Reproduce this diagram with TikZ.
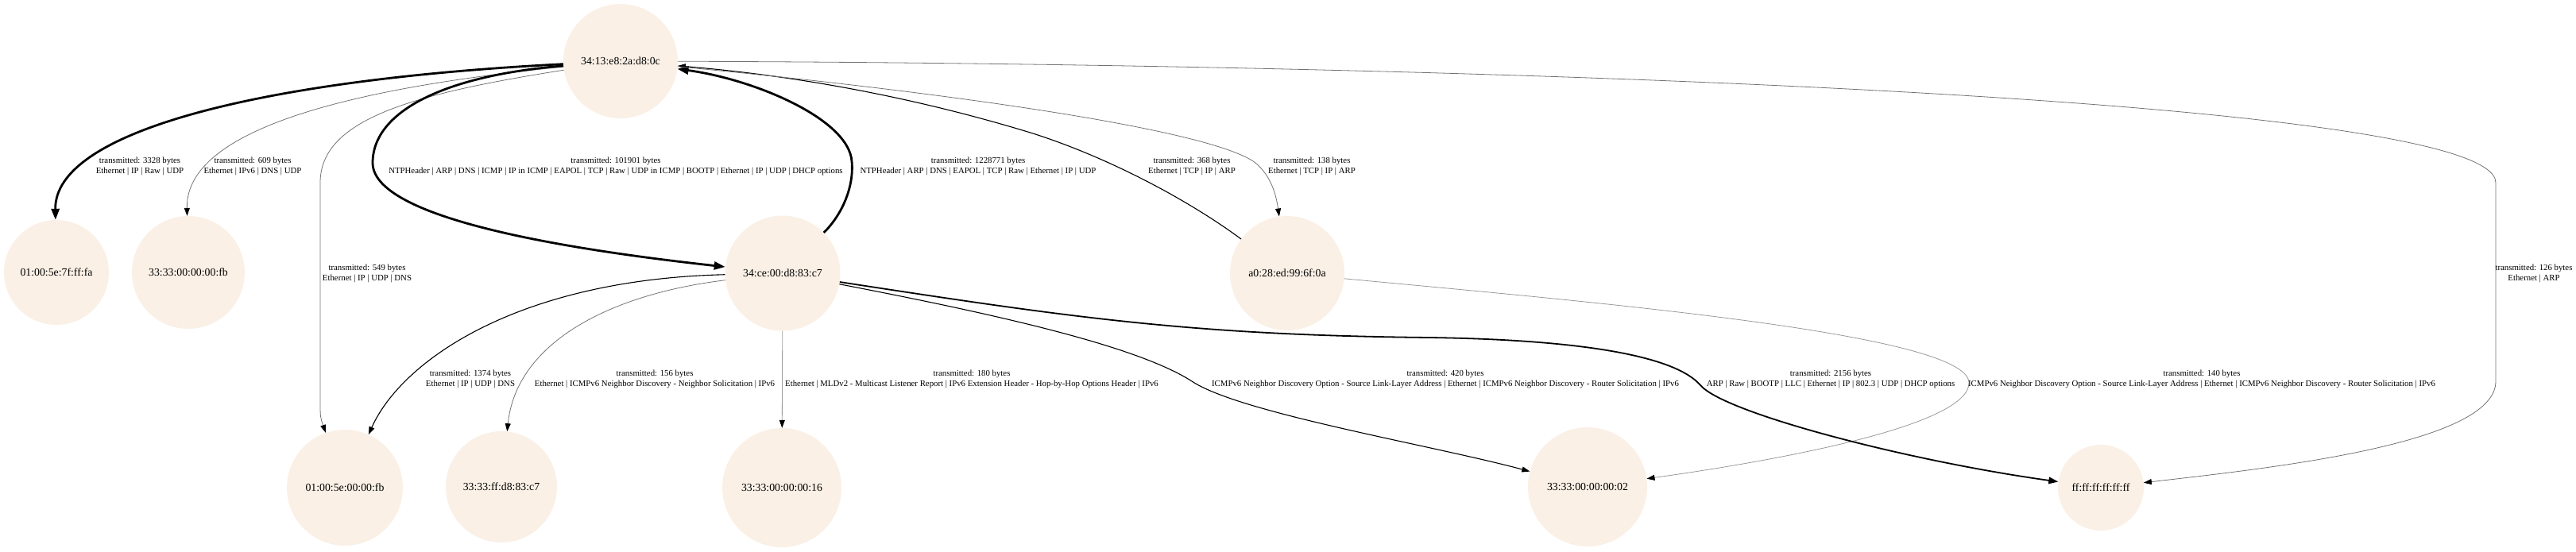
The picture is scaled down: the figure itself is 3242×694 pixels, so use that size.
\documentclass[tikz,border=0pt]{standalone}
\usepackage{fontspec}
\setmainfont{Liberation Serif}
\usetikzlibrary{arrows.meta}
\definecolor{linen}{RGB}{250,240,230}
\newcommand{\hostfnt}{\fontsize{13.8}{16}\selectfont}
\newcommand{\lblfnt}{\fontsize{10.8}{13}\selectfont}
\tikzset{
  host/.style={circle, fill=linen, draw=none, inner sep=0pt, font=\hostfnt},
  lbl/.style={align=center, inner sep=0pt, font=\lblfnt},
  heavy/.style={draw=black, line width=2.8pt, -{Triangle[length=14pt,width=10pt,color=black]}},
  medium/.style={draw=black, line width=1.8pt, -{Triangle[length=12pt,width=8.5pt,color=black]}},
  slim/.style={draw=black, line width=1.1pt, -{Triangle[length=10pt,width=7pt,color=black]}},
  faint/.style={draw=black!55, line width=0.8pt, -{Triangle[length=10pt,width=7pt,color=black]}},
  fainter/.style={draw=black!40, line width=0.8pt, -{Triangle[length=10pt,width=7pt,color=black]}},
}
\begin{document}
\begin{tikzpicture}[x=1pt,y=-1pt]
\useasboundingbox (0,0) rectangle (3242,694);
% hosts
\node[host, minimum size=144pt] (A) at (781,77) {34:13:e8:2a:d8:0c};
\node[host, minimum size=132pt] (B) at (71,343) {01:00:5e:7f:ff:fa};
\node[host, minimum size=142pt] (C) at (237,343) {33:33:00:00:00:fb};
\node[host, minimum size=145pt] (D) at (985,344) {34:ce:00:d8:83:c7};
\node[host, minimum size=144pt] (E) at (1620,344) {a0:28:ed:99:6f:0a};
\node[host, minimum size=146pt] (F) at (434,614) {01:00:5e:00:00:fb};
\node[host, minimum size=140pt] (G) at (631,613) {33:33:ff:d8:83:c7};
\node[host, minimum size=150pt] (H) at (984,614) {33:33:00:00:00:16};
\node[host, minimum size=150pt] (I) at (1998,613) {33:33:00:00:00:02};
\node[host, minimum size=108pt] (J) at (2644,614) {ff:ff:ff:ff:ff:ff};
% connectors
\draw[heavy] (A) .. controls (330,100) and (68,165) .. (B);
\draw[faint] (A) .. controls (500,105) and (233,150) .. (C);
\draw[faint] (A) .. controls (520,118) and (403,150) .. (403,230) -- (403,505) .. controls (403,525) .. (F);
\draw[heavy] (A) .. controls (560,95) and (469,140) .. (469,205) .. controls (469,280) and (750,318) .. (D);
\draw[heavy] (D) .. controls (1060,270) and (1075,235) .. (1072,203) .. controls (1068,150) and (950,100) .. (A);
\draw[slim] (E) .. controls (1500,255) and (1400,200) .. (1300,168) .. controls (1150,122) and (1000,95) .. (A);
\draw[faint] (A) .. controls (1150,112) and (1520,160) .. (1580,205) .. controls (1600,222) and (1606,245) .. (E);
\draw[faint] (A) .. controls (1800,80) and (3141,120) .. (3141,230) -- (3141,480) .. controls (3141,560) and (2850,590) .. (J);
\draw[fainter] (E) .. controls (2000,380) and (2478,420) .. (2478,482) .. controls (2478,540) and (2200,585) .. (I);
\draw[medium] (D) .. controls (1350,400) and (1500,422) .. (1800,425) .. controls (2000,428) and (2110,450) .. (2140,485) .. controls (2170,520) and (2400,580) .. (J);
\draw[slim] (D) .. controls (1250,395) and (1430,435) .. (1500,480) .. controls (1560,520) and (1800,560) .. (I);
\draw[slim] (D) .. controls (650,352) and (505,455) .. (F);
\draw[faint] (D) .. controls (770,370) and (650,430) .. (G);
\draw[fainter] (D) -- (H);
% labels
\node[lbl] (l3328) at (176,209.5) {transmitted: 3328 bytes\\Ethernet | IP | Raw | UDP};
\node[lbl] (l609) at (318,209.5) {transmitted: 609 bytes\\Ethernet | IPv6 | DNS | UDP};
\node[lbl] (l101901) at (775,209.5) {transmitted: 101901 bytes\\NTPHeader | ARP | DNS | ICMP | IP in ICMP | EAPOL | TCP | Raw | UDP in ICMP | BOOTP | Ethernet | IP | UDP | DHCP options};
\node[lbl] (l1228771) at (1231,209.5) {transmitted: 1228771 bytes\\NTPHeader | ARP | DNS | EAPOL | TCP | Raw | Ethernet | IP | UDP};
\node[lbl] (l368) at (1500,209.5) {transmitted: 368 bytes\\Ethernet | TCP | IP | ARP};
\node[lbl] (l138) at (1651,209.5) {transmitted: 138 bytes\\Ethernet | TCP | IP | ARP};
\node[lbl] (l549) at (462,344) {transmitted: 549 bytes\\Ethernet | IP | UDP | DNS};
\node[lbl] (l126) at (3189,344) {transmitted: 126 bytes\\Ethernet | ARP};
\node[lbl] (l1374) at (592,477) {transmitted: 1374 bytes\\Ethernet | IP | UDP | DNS};
\node[lbl] (l156) at (824,477) {transmitted: 156 bytes\\Ethernet | ICMPv6 Neighbor Discovery - Neighbor Solicitation | IPv6};
\node[lbl] (l180) at (1223,477) {transmitted: 180 bytes\\Ethernet | MLDv2 - Multicast Listener Report | IPv6 Extension Header - Hop-by-Hop Options Header | IPv6};
\node[lbl] (l420) at (1819,477) {transmitted: 420 bytes\\ICMPv6 Neighbor Discovery Option - Source Link-Layer Address | Ethernet | ICMPv6 Neighbor Discovery - Router Solicitation | IPv6};
\node[lbl] (l2156) at (2304,477) {transmitted: 2156 bytes\\ARP | Raw | BOOTP | LLC | Ethernet | IP | 802.3 | UDP | DHCP options};
\node[lbl] (l140) at (2771,477) {transmitted: 140 bytes\\ICMPv6 Neighbor Discovery Option - Source Link-Layer Address | Ethernet | ICMPv6 Neighbor Discovery - Router Solicitation | IPv6};
\end{tikzpicture}
\end{document}
